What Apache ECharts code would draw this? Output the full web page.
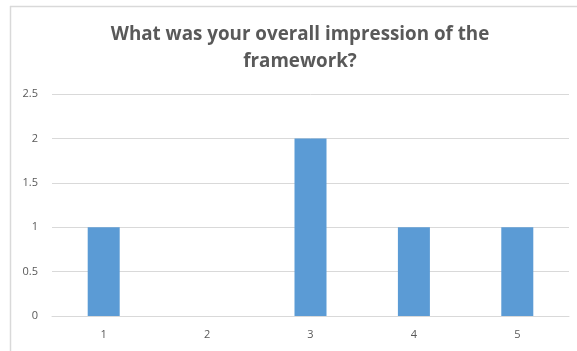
<!DOCTYPE html>
<html>
<head>
<meta charset="utf-8">
<script src="https://cdn.jsdelivr.net/npm/echarts@6/dist/echarts.min.js"></script>
<style>
  html, body { margin: 0; padding: 0; background: #fff; }
  #chart { width: 577px; height: 351px; }
</style>
</head>
<body>
<div id="chart"></div>
<script>
// Survey responses: rating on a 1–5 scale and how many people gave it
const categories = ['1', '2', '3', '4', '5'];
const counts = [1, 0, 2, 1, 1];
const yTicks = { min: 0, max: 2.5, interval: 0.5 };
const titleText = 'What was your overall impression of the\nframework?';

const chart = echarts.init(document.getElementById('chart'), null, { renderer: 'canvas' });

chart.setOption({
  animation: false,
  backgroundColor: '#ffffff',
  title: {
    text: titleText,
    left: 295,
    top: 16,
    textAlign: 'center',
    textStyle: {
      fontFamily: 'Open Sans',
      fontSize: 18.8,
      fontWeight: 'bold',
      color: '#595959',
      lineHeight: 27
    }
  },
  graphic: [
    { type: 'line', shape: { x1: 10, y1: 6.5, x2: 577, y2: 6.5 }, style: { stroke: '#d9d9d9', lineWidth: 1.5 } },
    { type: 'line', shape: { x1: 10.5, y1: 6, x2: 10.5, y2: 351 }, style: { stroke: '#d9d9d9', lineWidth: 1.5 } }
  ],
  grid: { left: 52, right: 8, top: 94, bottom: 35, containLabel: false },
  xAxis: {
    type: 'category',
    data: categories,
    axisTick: { show: false },
    axisLine: { show: true, lineStyle: { color: '#d9d9d9', width: 1 } },
    axisLabel: { color: '#595959', fontSize: 11, fontFamily: 'Open Sans', margin: 13 }
  },
  yAxis: {
    type: 'value',
    min: yTicks.min,
    max: yTicks.max,
    interval: yTicks.interval,
    axisLine: { show: false },
    axisTick: { show: false },
    axisLabel: { color: '#595959', fontSize: 11, fontFamily: 'Open Sans', margin: 14 },
    splitLine: { lineStyle: { color: '#d9d9d9', width: 1 } }
  },
  series: [{
    type: 'bar',
    data: counts,
    barWidth: 32,
    itemStyle: { color: '#5b9bd5' }
  }]
});
</script>
</body>
</html>
